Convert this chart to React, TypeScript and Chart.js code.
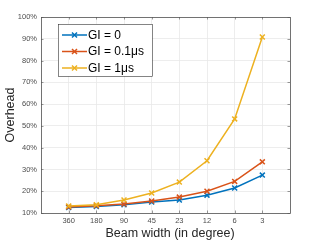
import React, { useEffect, useRef } from "react";
import { Chart, registerables } from "chart.js";

Chart.register(...registerables);

const categories = ["360", "180", "90", "45", "23", "12", "6", "3"];
const gi0 = [12.5, 13.0, 13.8, 15.0, 16.0, 18.2, 21.5, 27.4];
const gi01 = [12.8, 13.3, 14.1, 15.5, 17.3, 20.0, 24.5, 33.5];
const gi1 = [13.2, 13.8, 16.0, 19.2, 24.2, 34.0, 53.2, 90.8];
const seriesNames = ["GI = 0", "GI = 0.1\u03bcs", "GI = 1\u03bcs"];
const colors = ["#0072BD", "#D95319", "#EDB120"];

const FONT = "'Liberation Sans', Arial, Helvetica, sans-serif";

export default function App() {
  const ref = useRef<HTMLCanvasElement | null>(null);
  useEffect(() => {
    if (!ref.current) return;
    const all = [gi0, gi01, gi1];
    const boxPlugin = {
      id: "box",
      afterDraw(chart: any) {
        const { ctx, chartArea: a, scales } = chart;
        ctx.save();
        ctx.strokeStyle = "#555";
        ctx.lineWidth = 0.6;
        const xs = scales.x;
        const ys = scales.y;
        for (let i = 1; i <= categories.length; i++) {
          const px = Math.round(xs.getPixelForValue(i)) + 0.5;
          ctx.beginPath();
          ctx.moveTo(px, a.bottom);
          ctx.lineTo(px, a.bottom - 2.5);
          ctx.moveTo(px, a.top);
          ctx.lineTo(px, a.top + 2.5);
          ctx.stroke();
        }
        for (let v = 10; v <= 100; v += 10) {
          const py = Math.round(ys.getPixelForValue(v)) + 0.5;
          ctx.beginPath();
          ctx.moveTo(a.left, py);
          ctx.lineTo(a.left + 2.5, py);
          ctx.moveTo(a.right, py);
          ctx.lineTo(a.right - 2.5, py);
          ctx.stroke();
        }
        ctx.lineWidth = 0.8;
        ctx.strokeRect(Math.round(a.left) + 0.5, Math.round(a.top) + 0.5, Math.round(a.right - a.left), Math.round(a.bottom - a.top));

        // axis titles
        ctx.fillStyle = "#262626";
        ctx.font = `12.5px ${FONT}`;
        ctx.textAlign = "center";
        ctx.textBaseline = "middle";
        ctx.fillText("Beam width (in degree)", 170, 234);
        ctx.save();
        ctx.translate(10.5, 115);
        ctx.rotate(-Math.PI / 2);
        ctx.fillText("Overhead", 0, 0);
        ctx.restore();

        // legend
        const lx = 58, ly = 24, lw = 94, lh = 52;
        ctx.fillStyle = "#fff";
        ctx.fillRect(lx, ly, lw, lh);
        ctx.strokeStyle = "#333";
        ctx.lineWidth = 0.6;
        ctx.strokeRect(lx + 0.5, ly + 0.5, lw, lh);
        ctx.font = `12px ${FONT}`;
        ctx.textAlign = "left";
        for (let i = 0; i < 3; i++) {
          const y = 35 + i * 16.5;
          ctx.strokeStyle = colors[i];
          ctx.lineWidth = 1.5;
          ctx.beginPath();
          ctx.moveTo(62, y);
          ctx.lineTo(87, y);
          ctx.stroke();
          const r = 2.5;
          ctx.beginPath();
          ctx.moveTo(74.5 - r, y - r);
          ctx.lineTo(74.5 + r, y + r);
          ctx.moveTo(74.5 - r, y + r);
          ctx.lineTo(74.5 + r, y - r);
          ctx.stroke();
          ctx.fillStyle = "#000";
          ctx.fillText(seriesNames[i], 88, y + 0.5);
        }
        ctx.restore();
      },
    };
    const chart = new Chart(ref.current, {
      type: "line",
      data: {
        datasets: all.map((arr, k) => ({
          label: seriesNames[k],
          data: arr.map((v, i) => ({ x: i + 1, y: v })),
          borderColor: colors[k],
          backgroundColor: colors[k],
          borderWidth: 1.5,
          pointStyle: "crossRot",
          pointRadius: 3.5,
          pointBorderWidth: 1.5,
          order: 2 - k,
          fill: false,
          tension: 0,
        })),
      },
      options: {
        animation: false,
        responsive: false,
        maintainAspectRatio: false,
        layout: { padding: { left: 0, top: 17, right: 31, bottom: 0 } },
        plugins: { legend: { display: false }, tooltip: { enabled: false } },
        scales: {
          x: {
            type: "linear",
            min: 0,
            max: categories.length + 1,
            afterFit(s: any) { s.height = 28; },
            afterBuildTicks(s: any) {
              const t = [];
              for (let i = 0; i <= categories.length + 1; i++) t.push({ value: i });
              s.ticks = t;
            },
            ticks: {
              autoSkip: false,
              maxRotation: 0,
              padding: 3,
              color: "#4d4d4d",
              font: { size: 7.5, family: FONT },
              callback: (v: any) => categories[Number(v) - 1] ?? "",
            },
            grid: { color: "#e8e8e8", lineWidth: 0.8, drawTicks: false },
            border: { display: false },
          },
          y: {
            min: 10,
            max: 100,
            afterFit(s: any) { s.width = 41; },
            ticks: {
              stepSize: 10,
              padding: 4,
              color: "#4d4d4d",
              font: { size: 7.5, family: FONT },
              callback: (v: any) => `${v}%`,
            },
            grid: { color: "#e8e8e8", lineWidth: 0.8, drawTicks: false },
            border: { display: false },
          },
        },
      },
      plugins: [boxPlugin],
    });
    return () => chart.destroy();
  }, []);
  return (
    <div style={{ position: "absolute", left: 0, top: 0, width: 321, height: 241, background: "#fff" }}>
      <canvas ref={ref} width={321} height={241} style={{ width: 321, height: 241 }} />
    </div>
  );
}
